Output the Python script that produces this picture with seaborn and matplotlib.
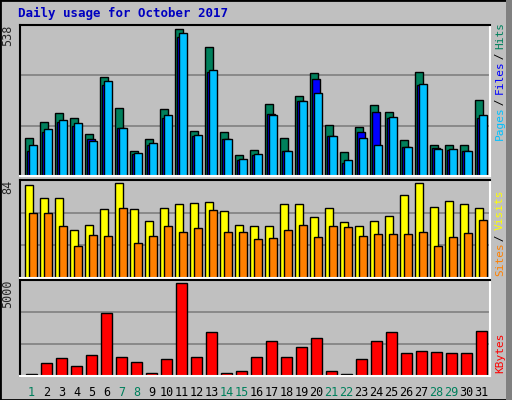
import matplotlib
matplotlib.use("Agg")
import matplotlib.pyplot as plt
import numpy as np
import seaborn as sns
from matplotlib.patches import Rectangle

days = np.arange(1, 32)
hits = [139, 198, 231, 212, 154, 362, 249, 91, 135, 245, 538, 165, 472, 161, 77, 95,
        263, 139, 293, 377, 187, 88, 179, 260, 234, 132, 381, 113, 113, 113, 278]
files = [91, 161, 198, 183, 135, 333, 176, 80, 113, 212, 509, 146, 381, 135, 59, 77,
         227, 91, 274, 355, 146, 48, 161, 234, 212, 106, 333, 102, 95, 91, 212]
pages = [113, 172, 205, 194, 128, 348, 176, 84, 121, 223, 523, 150, 388, 135, 62, 80,
         223, 91, 274, 304, 146, 59, 139, 113, 216, 106, 337, 99, 99, 91, 223]
visits = [82, 71, 71, 42, 47, 61, 84, 61, 50, 62, 65, 66, 67, 59, 47, 46,
          46, 65, 65, 54, 62, 49, 46, 50, 55, 73, 84, 63, 68, 65, 62]
sites = [57, 57, 46, 28, 38, 37, 62, 31, 37, 46, 41, 44, 60, 41, 41, 34,
         35, 42, 47, 36, 46, 45, 37, 39, 39, 39, 41, 28, 36, 40, 51]
kbytes = [128, 675, 949, 511, 1113, 3358, 1004, 730, 182, 894, 5000, 1004, 2372, 182, 292, 1004,
          1880, 1004, 1551, 2044, 292, 128, 894, 1880, 2372, 1223, 1332, 1277, 1223, 1223, 2427]
weekend = [1, 7, 8, 14, 15, 21, 22, 28, 29]

sns.set_style("white")
plt.rcParams["font.family"] = ["DejaVu Sans Mono"]

c_hits, c_files, c_pages = "#00805c", "#0000ff", "#00c0ff"
c_visits, c_sites, c_kb = "#ffff00", "#ff8000", "#ff0000"
gray = "#c0c0c0"

fig = plt.figure(figsize=(5.12, 4.0), dpi=100, facecolor=gray)
fig.patches.append(Rectangle((0, 0), 1, 1, transform=fig.transFigure, fill=False,
                             edgecolor="black", lw=2))
fig.patches.append(Rectangle((1 - 6 / 512, 0), 6 / 512, 1, transform=fig.transFigure,
                             facecolor="#808080", edgecolor="none"))


def make_ax(top, bottom, ymax):
    ax = fig.add_axes([20 / 512, 1 - bottom / 400, 470 / 512, (bottom - top) / 400])
    ax.set_facecolor(gray)
    ax.set_xlim(0.23, 31.56)
    ax.set_ylim(0, ymax * 1.03)
    for y in (ymax * 1.03 / 3, ymax * 1.03 * 2 / 3):
        ax.axhline(y, color="#808080", lw=1.2, zorder=0)
    ax.set_xticks([])
    ax.set_yticks([])
    for s in ("top", "left"):
        ax.spines[s].set_color("black")
        ax.spines[s].set_linewidth(1.5)
    for s in ("bottom", "right"):
        ax.spines[s].set_color("white")
        ax.spines[s].set_linewidth(1.5)
    return ax


bk = dict(align="edge", edgecolor="black", linewidth=1, zorder=2)

ax1 = make_ax(25, 176, max(hits))
ax1.bar(days - 0.43, hits, 0.53, color=c_hits, **bk)
ax1.bar(days - 0.30, files, 0.53, color=c_files, **bk)
ax1.bar(days - 0.17, pages, 0.53, color=c_pages, **bk)

ax2 = make_ax(180, 278, max(visits))
ax2.bar(days - 0.43, visits, 0.53, color=c_visits, **bk)
ax2.bar(days - 0.17, sites, 0.53, color=c_sites, **bk)

ax3 = make_ax(280, 376, max(kbytes))
ax3.bar(days - 0.37, kbytes, 0.7, color=c_kb, **bk)

for d in days:
    ax3.text(d, -0.1, str(d), transform=ax3.get_xaxis_transform(), ha="center", va="top",
             fontsize=8.5, color=c_hits if d in weekend else "black")

for ax, lab in ((ax1, max(hits)), (ax2, max(visits)), (ax3, max(kbytes))):
    ax.text(-0.012, 1.0, str(lab), transform=ax.transAxes, rotation=90, ha="right", va="top",
            fontsize=8.5)

fig.text(18 / 512, 1 - 13 / 400, "Daily usage for October 2017", color="#0000c0",
         fontsize=9, fontweight="bold", va="center")


def side_label(y_bottom_px, parts):
    # parts listed bottom to top, rotated 90; ~5.7 px per character
    y = y_bottom_px
    for p, c in parts:
        fig.text(500 / 512, 1 - y / 400, p, rotation=90, ha="center", va="bottom",
                 fontsize=8, color=c)
        y -= len(p) * 5.7


side_label(140, [("Pages", c_pages), (" / ", "black"), ("Files", c_files),
                 (" / ", "black"), ("Hits", c_hits)])
side_label(276, [("Sites", c_sites), (" / ", "black"), ("Visits", c_visits)])
side_label(373, [("KBytes", c_kb)])

fig.savefig("out.png", dpi=100, facecolor=gray)
